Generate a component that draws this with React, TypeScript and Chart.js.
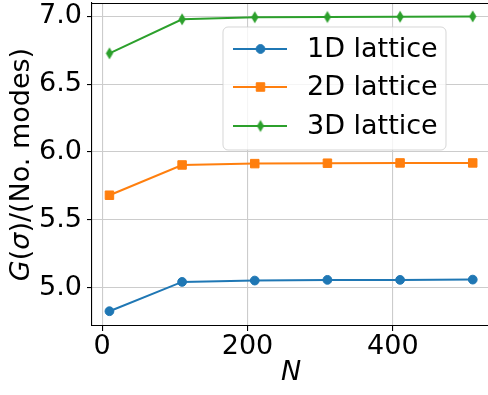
import React, { useEffect, useRef } from "react";
import { Chart, registerables } from "chart.js";
Chart.register(...registerables);

const nValues = [10, 110, 210, 310, 410, 510];
const lattice1D = [4.826, 5.042, 5.052, 5.057, 5.057, 5.059];
const lattice2D = [5.681, 5.904, 5.914, 5.917, 5.919, 5.919];
const lattice3D = [6.727, 6.978, 6.993, 6.995, 6.997, 6.999];
const seriesLabels = ["1D lattice", "2D lattice", "3D lattice"];
const seriesColors = ["#1f77b4", "#ff7f0e", "#2ca02c"];
const xTicks = [0, 200, 400];
const yTicks = [5.0, 5.5, 6.0, 6.5, 7.0];
const xTitle = "N";
const yTitleParts: [string, boolean][] = [["G", true], ["(", false], ["σ", true], [")/(No. modes)", false]];

const FONT = "DejaVu Sans";
const FS = 27;

function makeThinDiamond(color: string) {
  const c = document.createElement("canvas");
  c.width = 10;
  c.height = 15;
  const g = c.getContext("2d")!;
  const cx = 5, cy = 7.5, hw = 3.6, hh = 6;
  g.beginPath();
  g.moveTo(cx, cy - hh);
  g.lineTo(cx + hw, cy);
  g.lineTo(cx, cy + hh);
  g.lineTo(cx - hw, cy);
  g.closePath();
  g.fillStyle = color;
  g.fill();
  return c;
}

export default function App() {
  const ref = useRef<HTMLCanvasElement | null>(null);
  useEffect(() => {
    document.body.style.margin = "0";
    const diamond = makeThinDiamond(seriesColors[2]);
    const toPts = (ys: number[]) => ys.map((y, i) => ({ x: nValues[i], y }));
    const styles: any[] = [
      { pointStyle: "circle", pointRadius: 4.4 },
      { pointStyle: "rect", pointRadius: 6 },
      { pointStyle: diamond, pointRadius: 6 },
    ];
    const datasets = [lattice1D, lattice2D, lattice3D].map((ys, i) => ({
      label: seriesLabels[i],
      data: toPts(ys),
      borderColor: seriesColors[i],
      backgroundColor: seriesColors[i],
      borderWidth: 2,
      pointBorderWidth: 1,
      pointBorderColor: seriesColors[i],
      pointBackgroundColor: seriesColors[i],
      ...styles[i],
    }));

    const drawMarker = (ctx: CanvasRenderingContext2D, i: number, x: number, y: number) => {
      ctx.fillStyle = seriesColors[i];
      ctx.strokeStyle = seriesColors[i];
      ctx.lineWidth = 1;
      if (i === 0) {
        ctx.beginPath();
        ctx.arc(x, y, 4.4, 0, Math.PI * 2);
        ctx.fill();
        ctx.stroke();
      } else if (i === 1) {
        const s = 6 * Math.SQRT1_2;
        ctx.beginPath();
        ctx.rect(x - s, y - s, 2 * s, 2 * s);
        ctx.fill();
        ctx.stroke();
      } else {
        ctx.drawImage(diamond, x - diamond.width / 2, y - diamond.height / 2);
      }
    };

    const custom = {
      id: "custom",
      afterDatasetsDraw(chart: any) {
        const ctx = chart.ctx as CanvasRenderingContext2D;
        const { left, right, top } = chart.chartArea;
        ctx.save();
        // top spine
        ctx.strokeStyle = "#000";
        ctx.lineWidth = 1.1;
        ctx.beginPath();
        ctx.moveTo(left, top + 0.5);
        ctx.lineTo(right, top + 0.5);
        ctx.stroke();

        // legend
        const bx = 223, by = 27, bw = 223, bh = 123, r = 5;
        ctx.beginPath();
        ctx.moveTo(bx + r, by);
        ctx.arcTo(bx + bw, by, bx + bw, by + bh, r);
        ctx.arcTo(bx + bw, by + bh, bx, by + bh, r);
        ctx.arcTo(bx, by + bh, bx, by, r);
        ctx.arcTo(bx, by, bx + bw, by, r);
        ctx.closePath();
        ctx.fillStyle = "rgba(255,255,255,0.8)";
        ctx.fill();
        ctx.strokeStyle = "rgba(204,204,204,0.8)";
        ctx.lineWidth = 1;
        ctx.stroke();
        const rows = [49, 87, 126];
        chart.data.datasets.forEach((ds: any, i: number) => {
          const y = rows[i];
          ctx.strokeStyle = ds.borderColor;
          ctx.lineWidth = 2;
          ctx.beginPath();
          ctx.moveTo(233, y);
          ctx.lineTo(287, y);
          ctx.stroke();
          drawMarker(ctx, i, 260.5, y);
          ctx.fillStyle = "#000";
          ctx.font = `${FS}px "${FONT}"`;
          ctx.textBaseline = "middle";
          ctx.textAlign = "left";
          ctx.fillText(ds.label, 307, y + 1);
        });
        ctx.restore();
      },
      afterDraw(chart: any) {
        const ctx = chart.ctx as CanvasRenderingContext2D;
        const { top, bottom } = chart.chartArea;
        ctx.save();
        ctx.fillStyle = "#000";
        ctx.textBaseline = "middle";
        // x title
        ctx.font = `italic ${FS}px "${FONT}"`;
        ctx.textAlign = "center";
        ctx.fillText(xTitle, 291, 373);
        // y title
        ctx.translate(22, (top + bottom) / 2);
        ctx.rotate(-Math.PI / 2);
        const fonts = yTitleParts.map(([, it]) => `${it ? "italic " : ""}${FS}px "${FONT}"`);
        let total = 0;
        const widths = yTitleParts.map(([t], i) => {
          ctx.font = fonts[i];
          const w = ctx.measureText(t).width;
          total += w;
          return w;
        });
        let x = -total / 2;
        ctx.textAlign = "left";
        yTitleParts.forEach(([t], i) => {
          ctx.font = fonts[i];
          ctx.fillText(t, x, 0);
          x += widths[i];
        });
        ctx.restore();
      },
    };

    const gridCommon = {
      color: "#cccccc",
      lineWidth: 1.1,
      tickLength: 5,
      tickColor: "#000",
      tickWidth: 1.1,
    };
    const zeroPad = (s: any) => {
      s.paddingTop = 0;
      s.paddingBottom = 0;
      s.paddingLeft = 0;
      s.paddingRight = 0;
    };

    const chart = new Chart(ref.current!, {
      type: "line",
      data: { datasets },
      options: {
        animation: false,
        responsive: false,
        maintainAspectRatio: false,
        layout: { autoPadding: false, padding: { top: 3, left: 0, right: 0, bottom: 0 } },
        plugins: { legend: { display: false }, tooltip: { enabled: false } },
        scales: {
          x: {
            type: "linear",
            min: -14,
            max: 531,
            grid: gridCommon,
            border: { display: true, color: "#000", width: 1.1 },
            ticks: {
              color: "#000",
              font: { family: FONT, size: FS },
              padding: 0,
              maxRotation: 0,
              callback: (v: any) => String(v),
            },
            afterBuildTicks: (s: any) => {
              s.ticks = xTicks.map((v) => ({ value: v }));
            },
            afterFit: (s: any) => {
              s.height = 69;
              zeroPad(s);
            },
          },
          y: {
            type: "linear",
            min: 4.717,
            max: 7.098,
            grid: gridCommon,
            border: { display: true, color: "#000", width: 1.1 },
            ticks: {
              color: "#000",
              font: { family: FONT, size: FS },
              padding: 5,
              callback: (v: any) => Number(v).toFixed(1),
            },
            afterBuildTicks: (s: any) => {
              s.ticks = yTicks.map((v) => ({ value: v }));
            },
            afterFit: (s: any) => {
              s.width = 92;
              zeroPad(s);
            },
          },
        },
      },
      plugins: [custom],
    } as any);
    return () => chart.destroy();
  }, []);
  return (
    <div style={{ position: "absolute", left: 0, top: 0, width: 488, height: 395 }}>
      <canvas ref={ref} width={488} height={395} />
    </div>
  );
}
